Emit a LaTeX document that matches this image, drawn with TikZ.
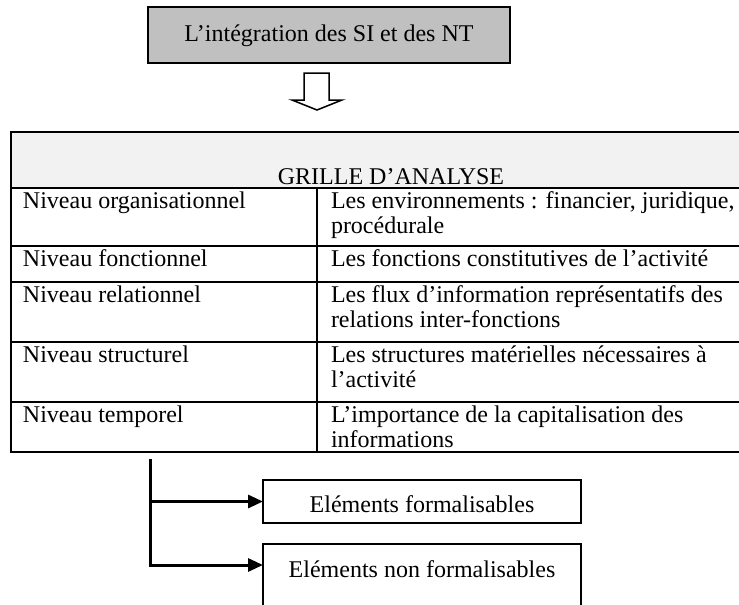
\documentclass[tikz,border=0pt]{standalone}
\usepackage{fontspec}
\setmainfont{Liberation Serif}
\usetikzlibrary{arrows.meta}
\definecolor{boxgray}{RGB}{192,192,192}
\definecolor{headgray}{RGB}{242,242,242}
\begin{document}
\begin{tikzpicture}[x=1pt,y=-1pt,
  every node/.style={inner sep=0pt, outer sep=0pt},
  txt/.style={font=\fontsize{24}{25}\selectfont, anchor=base west},
  ctr/.style={font=\fontsize{24}{25}\selectfont, anchor=base},
  rule/.style={draw=black, line width=2pt},
  ebox/.style={draw=black, line width=2pt, minimum width=318pt},
  link/.style={draw=black, line width=3pt},
  tip/.style={-{Triangle[length=15pt,width=13pt]}},
]
\clip (0,0) rectangle (739,605);
\fill[white] (0,0) rectangle (739,605);

% title box
\node[draw=black, line width=1.6pt, fill=boxgray, minimum width=362pt,
      minimum height=56pt] (title) at (329,35) {};
\node[ctr] (titletxt) at (329,41) {L’intégration des SI et des NT};

% hollow down arrow
\coordinate (hollow) at (317,73);
\draw[line width=1.5pt, line join=miter]
  (hollow) ++(-13,0) -- ++(25,0) -- ++(0,27) -- ++(13,0) -- ++(-25,10)
  -- ++(-25,-10) -- ++(12,0) -- cycle;

% analysis grid
\fill[headgray] (11,132) rectangle (739,188);
\draw[rule, line width=2.4pt] (11,132) -- (739,132);
\draw[rule] (11,188) -- (739,188);
\draw[rule] (11,246) -- (739,246);
\draw[rule] (11,282) -- (739,282);
\draw[rule] (11,342) -- (739,342);
\draw[rule] (11,402) -- (739,402);
\draw[rule] (11,452) -- (739,452);
\draw[rule] (11,131) -- (11,453);
\draw[rule] (317,188) -- (317,452);

\node[ctr] (hdr) at (391,184) {GRILLE D’ANALYSE};

\node[txt] (l1) at (23,208) {Niveau organisationnel};
\node[txt] (r1a) at (331,208) {Les environnements : financier, juridique,};
\node[txt] (r1b) at (331,233) {procédurale};

\node[txt] (l2) at (23,266) {Niveau fonctionnel};
\node[txt] (r2a) at (331,266) {Les fonctions constitutives de l’activité};

\node[txt] (l3) at (23,302) {Niveau relationnel};
\node[txt] (r3a) at (331,302) {Les flux d’information représentatifs des};
\node[txt] (r3b) at (331,327) {relations inter-fonctions};

\node[txt] (l4) at (23,362) {Niveau structurel};
\node[txt] (r4a) at (331,362) {Les structures matérielles nécessaires à};
\node[txt] (r4b) at (331,387) {l’activité};

\node[txt] (l5) at (23,422) {Niveau temporel};
\node[txt] (r5a) at (331,422) {L’importance de la capitalisation des};
\node[txt] (r5b) at (331,447) {informations};

% outcome boxes
\node[ebox, minimum height=43pt] (f1) at (422,501.5) {};
\node[ctr] (f1t) at (422,512) {Eléments formalisables};
\node[ebox, minimum height=100pt, anchor=north] (f2) at (422,544) {};
\node[ctr] (f2t) at (422,577) {Eléments non formalisables};

% branching connector
\coordinate (trunk) at (150,459);
\coordinate (j2) at (150,565);
\draw[link, tip] (trunk) -- (j2) -- (f2.west |- j2);
\draw[link, tip] (trunk |- f1.west) -- (f1.west);
\end{tikzpicture}
\end{document}
